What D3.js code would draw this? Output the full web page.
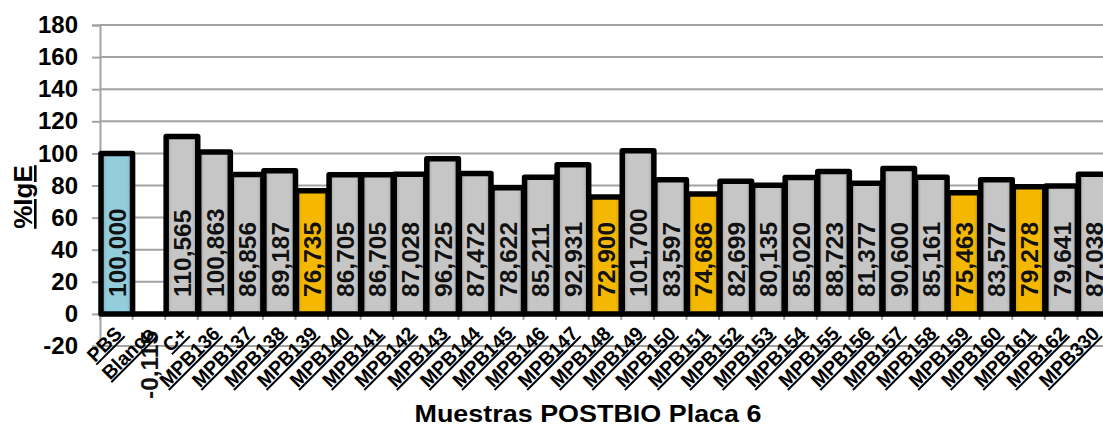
<!DOCTYPE html>
<html>
<head>
<meta charset="utf-8">
<script src="https://cdn.jsdelivr.net/npm/d3@7"></script>
<style>
  html, body { margin: 0; padding: 0; background: #fff; overflow: hidden; }
  svg { display: block; font-family: Arial, "Liberation Sans", sans-serif; }
</style>
</head>
<body>
<svg id="chart" width="1103" height="426"></svg>
<script>
// ---- data ----
const categories = ["PBS","Blanco","C+","MPB136","MPB137","MPB138","MPB139","MPB140","MPB141","MPB142",
  "MPB143","MPB144","MPB145","MPB146","MPB147","MPB148","MPB149","MPB150","MPB151","MPB152",
  "MPB153","MPB154","MPB155","MPB156","MPB157","MPB158","MPB159","MPB160","MPB161","MPB162","MPB330"];
const values = [100.000, -0.115, 110.565, 100.863, 86.856, 89.187, 76.735, 86.705, 86.705, 87.028,
  96.725, 87.472, 78.622, 85.211, 92.931, 72.900, 101.700, 83.597, 74.686, 82.699,
  80.135, 85.020, 88.723, 81.377, 90.600, 85.161, 75.463, 83.577, 79.278, 79.641, 87.038];
const controlCategories = ["PBS"];
const highlightCategories = ["MPB139","MPB148","MPB151","MPB159","MPB161"];
const yTicks = [-20, 0, 20, 40, 60, 80, 100, 120, 140, 160, 180];
const yTitle = "%IgE";
const xTitle = "Muestras POSTBIO Placa 6";

// ---- setup ----
const W = 1103, H = 426;
const svg = d3.select("#chart");
const locale = d3.formatLocale({decimal: ",", thousands: ".", grouping: [3], currency: ["", ""], minus: "-"});
const fmtVal = locale.format(".3f");
const fmtTick = locale.format("d");

const x = d3.scaleBand().domain(categories).range([100, 1110]).paddingInner(0).paddingOuter(0);
const y = d3.scaleLinear().domain([-20, 180]).range([346, 25]);

// gradients
const defs = svg.append("defs");
function grad(id, edge, mid) {
  const g = defs.append("linearGradient").attr("id", id).attr("x1", "0").attr("x2", "1").attr("y1", "0").attr("y2", "0");
  g.append("stop").attr("offset", "0%").attr("stop-color", edge);
  g.append("stop").attr("offset", "18%").attr("stop-color", mid);
  g.append("stop").attr("offset", "82%").attr("stop-color", mid);
  g.append("stop").attr("offset", "100%").attr("stop-color", edge);
}
grad("gGray", "#9c9c9c", "#c6c6c6");
grad("gBlue", "#6aa6b6", "#93cddc");
grad("gYellow", "#cf9800", "#f4b800");
function fillFor(c) {
  if (controlCategories.includes(c)) return "url(#gBlue)";
  if (highlightCategories.includes(c)) return "url(#gYellow)";
  return "url(#gGray)";
}

// gridlines
svg.append("g").selectAll("line").data(yTicks).join("line")
  .attr("x1", 100).attr("x2", W)
  .attr("y1", d => y(d)).attr("y2", d => y(d))
  .attr("stroke", "#a3a3a3").attr("stroke-width", 2);

// y axis
const yAxis = svg.append("g").attr("transform", "translate(100,0)")
  .call(d3.axisLeft(y).tickValues(yTicks).tickSize(8).tickPadding(14).tickFormat(fmtTick));
yAxis.select(".domain").attr("stroke", "#a3a3a3").attr("stroke-width", 2);
yAxis.selectAll(".tick line").attr("stroke", "#a3a3a3").attr("stroke-width", 2);
yAxis.selectAll(".tick text").attr("font-size", 24).attr("font-weight", "bold").attr("fill", "#000")
  .attr("font-family", "Arial, 'Liberation Sans', sans-serif");

// category axis line and boundary ticks
const y0 = y(0);
svg.append("line").attr("x1", 100).attr("x2", W).attr("y1", y0 + 1).attr("y2", y0 + 1)
  .attr("stroke", "#a3a3a3").attr("stroke-width", 2);
svg.append("g").selectAll("line").data(d3.range(categories.length + 1)).join("line")
  .attr("x1", i => 100 + i * x.step()).attr("x2", i => 100 + i * x.step())
  .attr("y1", y0).attr("y2", y0 + 6)
  .attr("stroke", "#a3a3a3").attr("stroke-width", 2);

// bars
const bw = x.bandwidth();
svg.append("g").selectAll("rect").data(categories).join("rect")
  .attr("x", c => x(c) + 1)
  .attr("width", bw - 1)
  .attr("y", (c, i) => Math.min(y(values[i]), y0))
  .attr("height", (c, i) => Math.abs(y(values[i]) - y0))
  .attr("fill", fillFor)
  .attr("stroke", "#000").attr("stroke-width", 5.5).attr("stroke-linejoin", "round");

// value labels
svg.append("g").selectAll("text").data(categories).join("text")
  .attr("transform", (c, i) => {
    const cx = x(c) + bw / 2 + 1;
    const ty = values[i] >= 0 ? y0 - 17 : y0 + 17;
    return `translate(${cx},${ty}) rotate(-90)`;
  })
  .attr("text-anchor", (c, i) => values[i] >= 0 ? "start" : "end")
  .attr("dominant-baseline", "central")
  .attr("font-size", 24.5).attr("font-weight", "bold").attr("fill", "#111")
  .text((c, i) => fmtVal(values[i]));

// category labels
const xAxis = svg.append("g").attr("transform", `translate(0,${y0})`)
  .call(d3.axisBottom(x).tickSize(0).tickPadding(0));
xAxis.select(".domain").remove();
xAxis.selectAll(".tick text")
  .attr("transform", `translate(7,21) rotate(-45)`)
  .attr("text-anchor", "end").attr("dy", "0").attr("y", 0)
  .attr("font-size", 19.5).attr("font-weight", "bold").attr("fill", "#000")
  .attr("font-family", "Arial, 'Liberation Sans', sans-serif")
  .attr("text-decoration", "underline");

// axis titles
svg.append("text")
  .attr("transform", "translate(32,197) rotate(-90)")
  .attr("text-anchor", "middle")
  .attr("font-size", 26).attr("font-weight", "bold").attr("fill", "#000")
  .attr("text-decoration", "underline")
  .text(yTitle);

svg.append("text")
  .attr("x", 588).attr("y", 422)
  .attr("text-anchor", "middle")
  .attr("font-size", 23).attr("font-weight", "bold").attr("fill", "#000")
  .attr("textLength", 347).attr("lengthAdjust", "spacingAndGlyphs")
  .text(xTitle);
</script>
</body>
</html>
